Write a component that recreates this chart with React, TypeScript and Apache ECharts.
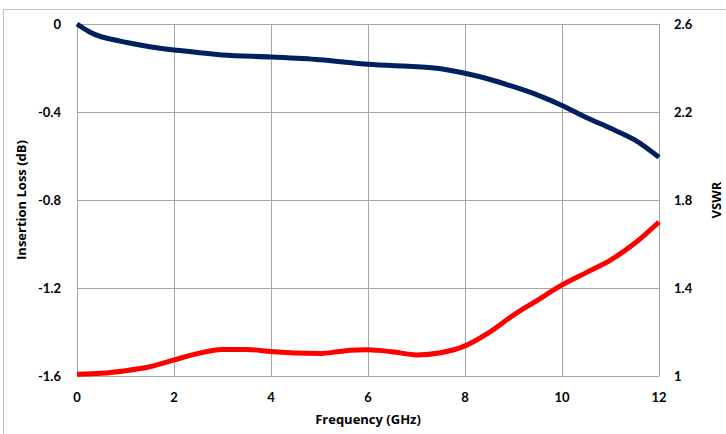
import React, { useEffect, useRef } from "react";
import * as echarts from "echarts";

const freqIL = [0, 0.25, 0.5, 1, 1.5, 2, 3, 4, 5, 6, 7, 7.5, 8, 8.5, 9, 9.5, 10, 10.5, 11, 11.5, 12];
const insertionLoss = [0, -0.035, -0.058, -0.083, -0.103, -0.118, -0.141, -0.15, -0.162, -0.183, -0.194, -0.203, -0.224, -0.251, -0.285, -0.323, -0.37, -0.425, -0.474, -0.527, -0.606];

const freqVSWR = [0, 0.5, 1, 1.5, 2, 2.5, 3, 3.5, 4, 4.5, 5, 5.5, 6, 6.5, 7, 7.5, 8, 8.5, 9, 9.5, 10, 10.5, 11, 11.5, 12];
const vswr = [1.008, 1.012, 1.024, 1.042, 1.073, 1.103, 1.12, 1.121, 1.111, 1.104, 1.102, 1.114, 1.119, 1.11, 1.096, 1.106, 1.137, 1.198, 1.277, 1.345, 1.414, 1.47, 1.527, 1.603, 1.7];

const FONT = "Lato";
const TITLE_FONT = "Open Sans";

export default function App() {
  const ref = useRef<HTMLDivElement>(null);
  useEffect(() => {
    if (!ref.current) return;
    const chart = echarts.init(ref.current, undefined, { renderer: "svg" });
    const labelStyle = { color: "#000", fontWeight: "bold" as const, fontSize: 13, fontFamily: FONT };
    const titleStyle = { color: "#000", fontWeight: "bold" as const, fontSize: 13, fontFamily: TITLE_FONT };
    chart.setOption({
      animation: false,
      backgroundColor: "#fff",
      graphic: [
        {
          type: "rect",
          shape: { x: 3.5, y: 9.5, width: 740, height: 440 },
          style: { fill: "none", stroke: "#BFBFBF", lineWidth: 1 },
          silent: true,
        },
      ],
      grid: { left: 77, right: 67, top: 24, bottom: 58, containLabel: false, outerBoundsMode: "none" },
      xAxis: {
        type: "value",
        min: 0,
        max: 12,
        interval: 2,
        name: "Frequency (GHz)",
        nameLocation: "middle",
        nameGap: 36,
        nameTextStyle: titleStyle,
        axisLine: { show: true, lineStyle: { color: "#A6A6A6" } },
        axisTick: { show: false },
        axisLabel: { ...labelStyle, margin: 14 },
        splitLine: { show: true, lineStyle: { color: "#A6A6A6" } },
      },
      yAxis: [
        {
          type: "value",
          min: -1.6,
          max: 0,
          interval: 0.4,
          name: "Insertion Loss (dB)",
          nameLocation: "middle",
          nameGap: 42,
          nameRotate: 90,
          nameTextStyle: titleStyle,
          axisLine: { show: true, lineStyle: { color: "#A6A6A6" } },
          axisTick: { show: false },
          axisLabel: {
            ...labelStyle,
            margin: 16,
            formatter: (v: number) => (Math.abs(v) < 1e-9 ? "0" : v.toFixed(1)),
          },
          splitLine: { show: true, lineStyle: { color: "#A6A6A6" } },
        },
        {
          type: "value",
          min: 1,
          max: 2.6,
          interval: 0.4,
          name: "VSWR",
          nameLocation: "middle",
          nameGap: 50,
          nameRotate: 90,
          nameTextStyle: titleStyle,
          axisLine: { show: true, lineStyle: { color: "#A6A6A6" } },
          axisTick: { show: false },
          axisLabel: {
            ...labelStyle,
            margin: 15,
            formatter: (v: number) => {
              const r = Math.round(v * 10) / 10;
              return Number.isInteger(r) ? String(r) : r.toFixed(1);
            },
          },
          splitLine: { show: false },
        },
      ],
      series: [
        {
          type: "line",
          yAxisIndex: 0,
          data: freqIL.map((f, i) => [f, insertionLoss[i]]),
          showSymbol: false,
          smooth: 0.3,
          lineStyle: { color: "#002060", width: 5 },
        },
        {
          type: "line",
          yAxisIndex: 1,
          data: freqVSWR.map((f, i) => [f, vswr[i]]),
          showSymbol: false,
          smooth: 0.3,
          lineStyle: { color: "#FF0000", width: 5 },
        },
      ],
    });
    return () => chart.dispose();
  }, []);
  return <div ref={ref} style={{ width: 726, height: 434, position: "fixed", left: 0, top: 0 }} />;
}
